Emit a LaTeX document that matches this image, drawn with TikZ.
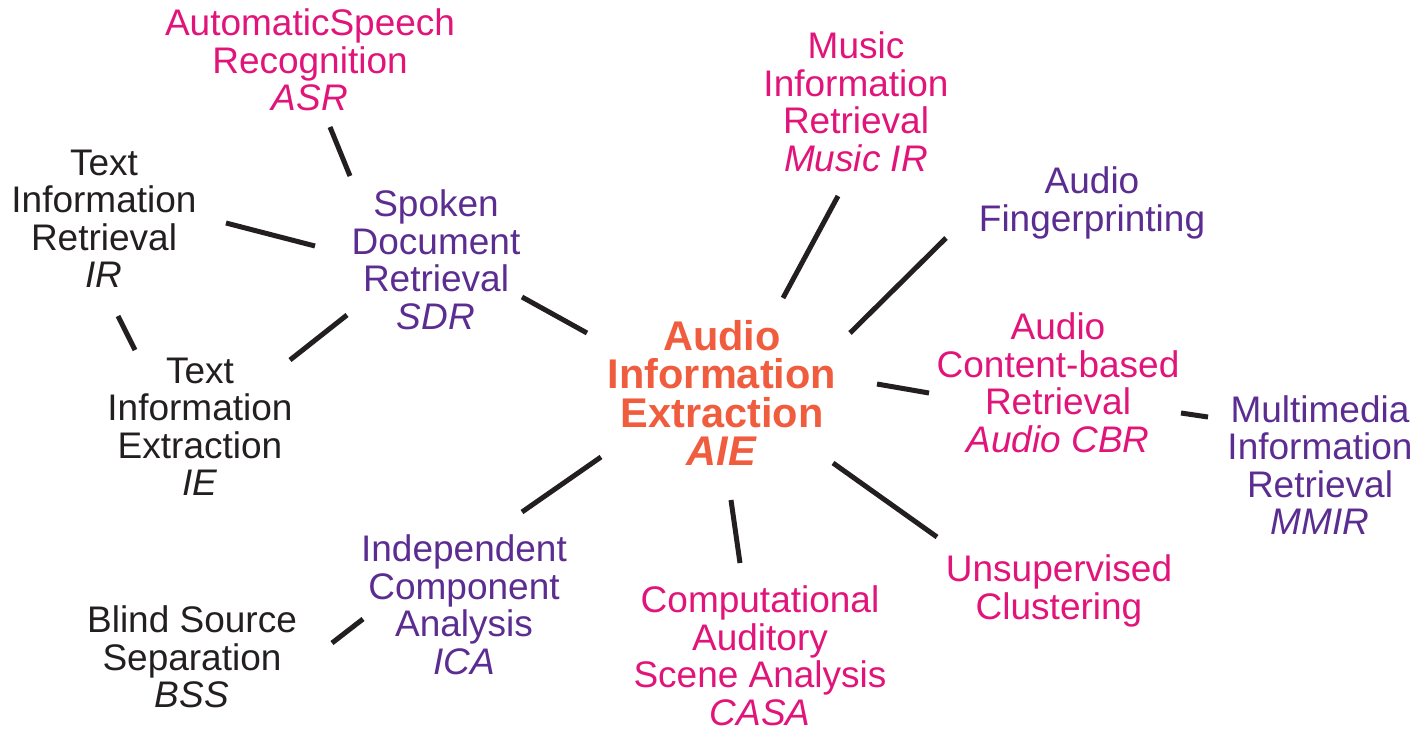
\documentclass[tikz,border=0pt]{standalone}
\usepackage{fontspec}
\setmainfont{Liberation Sans}
\definecolor{aieorange}{RGB}{240,92,62}
\definecolor{fieldmag}{RGB}{225,20,122}
\definecolor{fieldpur}{RGB}{92,45,145}
\definecolor{fieldblk}{RGB}{35,31,32}
\tikzset{
  field/.style={align=center, inner sep=0pt, font=\fontsize{37}{37.5}\selectfont},
  mag/.style={field, text=fieldmag},
  pur/.style={field, text=fieldpur},
  blk/.style={field, text=fieldblk},
  hub/.style={align=center, inner sep=0pt, text=aieorange, font=\fontsize{41.5}{38.5}\selectfont\bfseries},
  link/.style={draw=fieldblk, line width=5pt}
}
\begin{document}
\begin{tikzpicture}[x=1pt, y=-1pt]
      \useasboundingbox (0,0) rectangle (1424,732);

      \node[hub] (aie) at (722,393) {Audio\\Information\\Extraction\\\textit{AIE}};
      \node[mag] (asr) at (310,60) {AutomaticSpeech\\Recognition\\\textit{ASR}};
      \node[blk] (textir) at (104,219) {Text\\Information\\Retrieval\\\textit{IR}};
      \node[pur] (sdr) at (436,260) {Spoken\\Document\\Retrieval\\\textit{SDR}};
      \node[blk] (textie) at (200,427) {Text\\Information\\Extraction\\\textit{IE}};
      \node[mag] (musicir) at (856,102) {Music\\Information\\Retrieval\\\textit{Music IR}};
      \node[pur] (finger) at (1092,203) {Audio\\Fingerprinting};
      \node[mag] (cbr) at (1058,383) {Audio\\Content-based\\Retrieval\\\textit{Audio CBR}};
      \node[pur] (mmir) at (1320,465) {Multimedia\\Information\\Retrieval\\\textit{MMIR}};
      \node[mag] (clust) at (1059,591) {Unsupervised\\Clustering};
      \node[mag] (casa) at (760,656) {Computational\\Auditory\\Scene Analysis\\\textit{CASA}};
      \node[pur] (ica) at (464,605) {Independent\\Component\\Analysis\\\textit{ICA}};
      \node[blk] (bss) at (192,657) {Blind Source\\Separation\\\textit{BSS}};

      \draw[link] ([shift={(20,67)}]asr.center) -- ([shift={(-86,-84)}]sdr.center);
      \draw[link] ([shift={(122,4)}]textir.center) -- ([shift={(-121,-14)}]sdr.center);
      \draw[link] ([shift={(14,97)}]textir.center) -- ([shift={(-65,-77)}]textie.center);
      \draw[link] ([shift={(-89,55)}]sdr.center) -- ([shift={(90,-67)}]textie.center);
      \draw[link] ([shift={(86,37)}]sdr.center) -- ([shift={(-135,-60)}]aie.center);
      \draw[link] ([shift={(-18,94)}]musicir.center) -- ([shift={(61,-95)}]aie.center);
      \draw[link] ([shift={(-146,35)}]finger.center) -- ([shift={(128,-60)}]aie.center);
      \draw[link] ([shift={(155,-9)}]aie.center) -- ([shift={(-129,10)}]cbr.center);
      \draw[link] ([shift={(123,30)}]cbr.center) -- ([shift={(-112,-48)}]mmir.center);
      \draw[link] ([shift={(111,70)}]aie.center) -- ([shift={(-122,-54)}]clust.center);
      \draw[link] ([shift={(9,107)}]aie.center) -- ([shift={(-20,-93)}]casa.center);
      \draw[link] ([shift={(-121,64)}]aie.center) -- ([shift={(58,-93)}]ica.center);
      \draw[link] ([shift={(-101,14)}]ica.center) -- ([shift={(140,-14)}]bss.center);
    \end{tikzpicture}
\end{document}
